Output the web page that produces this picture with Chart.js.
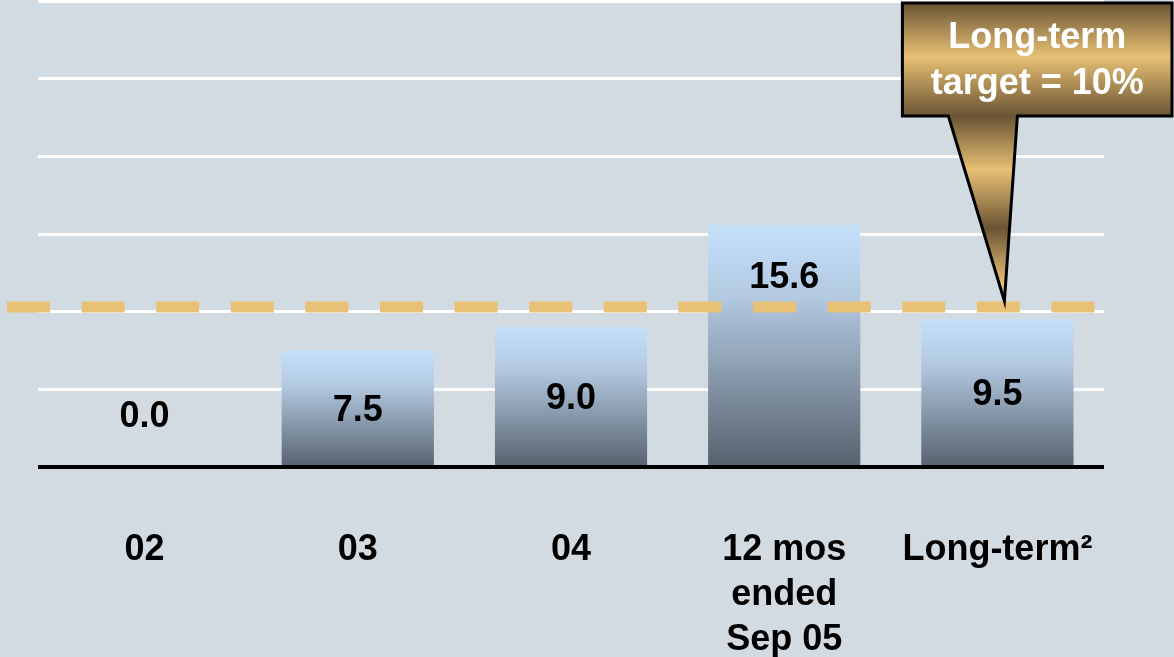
<!DOCTYPE html>
<html>
<head>
<meta charset="utf-8">
<script src="https://cdn.jsdelivr.net/npm/chart.js@4"></script>
<style>
  html, body { margin: 0; padding: 0; background: #d3dbe2; }
  canvas { display: block; }
</style>
</head>
<body>
<canvas id="returnChart" width="1174" height="657"></canvas>
<script>
'use strict';

// data
const categories = ['02', '03', '04', ['12 mos', 'ended', 'Sep 05'], 'Long-term\u00b2'];
const returns = [0.0, 7.5, 9.0, 15.6, 9.5];
const targetLine = 10.3;
const calloutLines = ['Long-term', 'target = 10%'];
const yMin = 0;
const yMax = 30;
const yStep = 5;

const font = '"Liberation Sans", Arial, sans-serif';

function barFill(ctx) {
  let chart = ctx.chart;
  let y = chart.scales.y;
  if (!y || ctx.type !== 'data') return '#9fb4c9';
  let top = y.getPixelForValue(ctx.raw);
  let base = y.getPixelForValue(0);
  if (!isFinite(top) || !isFinite(base) || base - top < 1) return '#9fb4c9';
  let g = chart.ctx.createLinearGradient(0, top, 0, base);
  g.addColorStop(0, '#c6e0fa');
  g.addColorStop(0.3, '#b2c9e1');
  g.addColorStop(0.6, '#8c9db0');
  g.addColorStop(1, '#56616d');
  return g;
}

const background = {
  id: 'background',
  beforeDraw(chart) {
    let c = chart.ctx;
    c.save();
    c.fillStyle = '#d3dbe2';
    c.fillRect(0, 0, chart.width, chart.height);
    c.restore();
  }
};

const targetAndLabels = {
  id: 'targetAndLabels',
  afterDatasetsDraw(chart) {
    let c = chart.ctx;
    let y = chart.scales.y;
    let area = chart.chartArea;
    let ty = y.getPixelForValue(targetLine);

    // dashed target line
    c.save();
    c.strokeStyle = '#e8c176';
    c.lineWidth = 11;
    c.setLineDash([43, 31.6]);
    c.lineCap = 'butt';
    c.beginPath();
    c.moveTo(7, ty);
    c.lineTo(area.right - 9, ty);
    c.stroke();
    c.restore();

    // value labels
    let meta = chart.getDatasetMeta(0);
    c.save();
    c.font = 'bold 36px ' + font;
    c.fillStyle = '#000';
    c.textAlign = 'center';
    c.textBaseline = 'middle';
    meta.data.forEach(function (bar, i) {
      let top = bar.y;
      let base = bar.base;
      let ly = (top + base) / 2 + 3;
      if (base - top < 40) {
        ly = base - 50;
      } else if (Math.abs(ly - ty) < 60) {
        ly = top + 53;
      }
      c.fillText(returns[i].toFixed(1), bar.x, ly);
    });
    c.restore();
  }
};

const callout = {
  id: 'callout',
  afterDraw(chart) {
    let c = chart.ctx;
    let meta = chart.getDatasetMeta(0);
    let last = meta.data[meta.data.length - 1];
    let tipX = last.x + 7;
    let tipY = chart.scales.y.getPixelForValue(targetLine) - 6;
    let left = tipX - 102;
    let right = chart.width - 2;
    let top = 3;
    let bottom = 116;

    let g = c.createLinearGradient(0, top, 0, tipY);
    g.addColorStop(0, '#6a5434');
    g.addColorStop(0.18, '#e8c074');
    g.addColorStop(0.38, '#6a5434');
    g.addColorStop(0.56, '#e8c074');
    g.addColorStop(0.755, '#6a5434');
    g.addColorStop(0.94, '#e8c074');
    g.addColorStop(1, '#e8c074');

    c.save();
    c.beginPath();
    c.moveTo(left, top);
    c.lineTo(right, top);
    c.lineTo(right, bottom);
    c.lineTo(tipX + 13, bottom);
    c.lineTo(tipX, tipY);
    c.lineTo(tipX - 56, bottom);
    c.lineTo(left, bottom);
    c.closePath();
    c.fillStyle = g;
    c.fill();
    c.lineWidth = 3;
    c.lineJoin = 'miter';
    c.strokeStyle = '#000';
    c.stroke();

    c.font = 'bold 36px ' + font;
    c.fillStyle = '#fff';
    c.textAlign = 'center';
    c.textBaseline = 'middle';
    let cx = (left + right) / 2;
    c.fillText(calloutLines[0], cx, 38);
    c.fillText(calloutLines[1], cx, 84);
    c.restore();
  }
};

let chartObject = {
  type: 'bar',
  data: {
    labels: categories,
    datasets: [{
      data: returns,
      backgroundColor: barFill,
      borderWidth: 0,
      barPercentage: 0.714,
      categoryPercentage: 1.0
    }]
  },
  options: {
    responsive: false,
    animation: false,
    devicePixelRatio: 1,
    layout: { padding: { left: 38, right: 70, top: 1, bottom: 0 } },
    plugins: {
      legend: { display: false },
      tooltip: { enabled: false }
    },
    scales: {
      x: {
        grid: { display: false, drawTicks: false },
        border: { display: false },
        afterFit: function (scale) { scale.height = 190; },
        ticks: {
          color: '#000',
          padding: 61,
          font: { family: font, size: 36, weight: 'bold', lineHeight: 1.24 }
        }
      },
      y: {
        min: yMin,
        max: yMax,
        ticks: { display: false, stepSize: yStep },
        border: { display: false },
        grid: {
          drawTicks: false,
          color: function (ctx) { return ctx.tick && ctx.tick.value === 0 ? '#000' : '#ffffff'; },
          lineWidth: function (ctx) { return ctx.tick && ctx.tick.value === 0 ? 4 : 3; }
        }
      }
    }
  },
  plugins: [background, targetAndLabels, callout]
};

let ctx = document.getElementById('returnChart').getContext('2d');
let myChart = new Chart(ctx, chartObject);
</script>
</body>
</html>
